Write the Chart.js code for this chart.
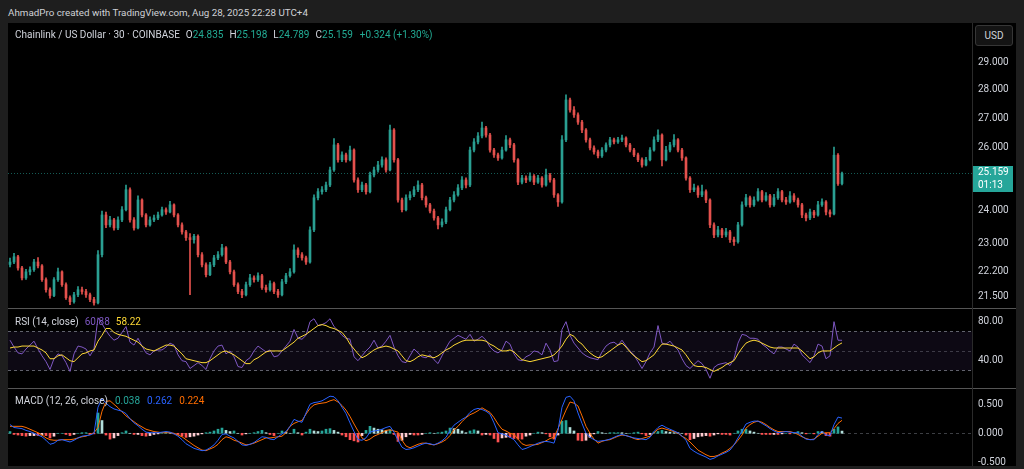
<!DOCTYPE html>
<html><head><meta charset="utf-8">
<script src="https://cdn.jsdelivr.net/npm/chart.js@4.4.1/dist/chart.umd.min.js"></script>
<style>
*{box-sizing:border-box}
html,body{margin:0;padding:0;width:1024px;height:469px;overflow:hidden;background:#1e1e1e;font-family:Roboto,"Liberation Sans",Arial,sans-serif}
#bg{position:absolute;left:8px;top:23px;width:1008px;height:443px;background:#000}
.pane{position:absolute;left:8px;width:1008px}
.pane canvas{display:block}
#p1{top:23px;height:285px}
#p2{top:309px;height:79px}
#p3{top:389px;height:80px}
.sep{position:absolute;left:8px;width:1008px;height:1px;background:#555;z-index:5}
#vsep{position:absolute;left:972px;top:23px;width:1px;height:443px;background:#2a2a2a;z-index:5}
.legend{position:absolute;left:15px;height:14px;line-height:14px;font-size:10px;color:#d1d4dc;white-space:nowrap;z-index:6}
.legend span{margin-left:6px}
.legend b{font-weight:normal}
#header{position:absolute;left:8px;top:6px;font-size:9.8px;line-height:14px;color:#cfd1d6;white-space:nowrap}
#usd{position:absolute;left:975px;top:25px;width:38px;height:21px;border:1px solid #363636;border-radius:3px;background:#141414;color:#d1d4dc;font-size:10px;line-height:19px;text-align:center;z-index:6}
</style>
</head><body>
<div id="bg"></div>
<div id="header"></div>
<div class="pane" id="p1"><canvas id="c1"></canvas></div>
<div class="pane" id="p2"><canvas id="c2"></canvas></div>
<div class="pane" id="p3"><canvas id="c3"></canvas></div>
<div class="sep" style="top:308px"></div>
<div class="sep" style="top:388px"></div>
<div id="vsep"></div>
<div id="usd">USD</div>
<div class="legend" id="lg1" style="top:28px"></div>
<div class="legend" id="lg2" style="top:315px"></div>
<div class="legend" id="lg3" style="top:394px"></div>
<script>
// ---------- DATA ----------
const headerText = "AhmadPro created with TradingView.com, Aug 28, 2025 22:28 UTC+4";
const symbolTitle = "Chainlink / US Dollar \u00b7 30 \u00b7 COINBASE";
const currency = "USD";
const countdown = "01:13";

const opens = [
22.40,22.47,22.62,22.30,22.02,22.19,22.25,22.47,22.36,21.97,
21.69,21.53,21.97,22.19,21.83,21.47,21.36,21.55,21.69,21.64,
21.55,21.42,21.33,22.68,23.86,23.56,23.71,23.47,23.71,24.02,
24.64,23.71,23.47,24.32,23.86,23.56,23.71,23.77,23.86,24.02,
23.95,24.17,23.86,23.56,23.35,23.18,23.12,23.22,22.68,22.39,
22.11,22.39,22.59,22.68,22.88,22.47,22.19,21.83,21.64,21.55,
21.83,22.02,21.97,22.08,21.75,21.69,21.86,21.64,21.55,21.91,
22.08,22.19,22.82,22.68,22.59,22.47,23.41,24.39,24.58,24.64,
24.79,25.27,26.09,25.60,25.76,25.60,25.92,24.95,24.64,24.79,
24.58,25.11,25.27,25.43,25.60,25.27,26.59,25.60,24.32,24.02,
24.39,24.48,24.64,24.79,24.39,24.17,23.98,23.77,23.56,23.65,
24.02,24.32,24.48,24.70,24.95,24.79,25.92,26.19,26.39,26.66,
26.42,25.92,25.76,25.66,25.92,26.26,26.09,25.60,24.88,25.01,
24.95,25.07,24.88,25.01,24.79,25.11,24.95,24.48,24.26,26.26,
27.63,27.28,27.11,26.86,26.59,26.26,25.99,25.86,25.73,25.92,
26.09,26.26,26.19,26.26,26.32,26.09,25.92,25.76,25.60,25.43,
25.60,25.92,26.26,26.42,25.60,25.92,26.09,26.26,25.92,25.66,
25.01,24.64,24.70,24.48,24.58,24.32,23.56,23.26,23.41,23.26,
23.35,23.12,23.06,23.56,24.17,24.39,24.17,24.32,24.58,24.32,
24.45,24.17,24.39,24.58,24.32,24.26,24.45,24.32,24.17,23.86,
23.77,23.95,23.86,24.17,24.26,23.95,23.89,25.75,24.835];

const highs = [
22.58,22.72,22.66,22.35,22.26,22.33,22.55,22.60,22.40,22.02,
21.74,22.03,22.30,22.22,21.88,21.52,21.62,21.78,21.76,21.70,
21.60,21.48,22.80,23.98,23.95,23.82,23.76,23.80,24.12,24.79,
24.70,23.78,24.45,24.36,23.90,23.80,23.86,23.95,24.10,24.08,
24.28,24.20,23.90,23.62,23.40,23.30,23.28,23.26,22.74,22.45,
22.46,22.66,22.77,22.98,22.92,22.52,22.24,21.88,21.70,21.90,
22.12,22.08,22.16,22.12,21.82,21.94,21.90,21.70,21.98,22.15,
22.28,22.97,22.88,22.74,22.64,23.50,24.48,24.68,24.74,24.88,
25.36,26.30,26.14,25.86,25.82,26.05,25.96,25.02,24.88,24.84,
25.20,25.36,25.55,25.70,25.66,26.76,26.64,25.65,24.38,24.48,
24.58,24.74,24.92,24.84,24.44,24.22,24.04,23.82,23.74,24.10,
24.40,24.58,24.80,25.06,25.02,26.02,26.30,26.50,26.86,26.72,
26.48,25.98,25.82,26.02,26.40,26.32,26.14,25.64,25.10,25.08,
25.18,25.12,25.10,25.06,25.30,25.16,25.00,24.52,26.40,27.81,
27.70,27.40,27.18,26.92,26.64,26.32,26.06,25.92,26.00,26.16,
26.34,26.32,26.34,26.42,26.36,26.14,25.98,25.82,25.66,25.68,
26.00,26.36,26.60,26.46,26.04,26.18,26.44,26.30,25.98,25.70,
25.06,24.82,24.76,24.79,24.64,24.36,23.62,23.52,23.46,23.46,
23.40,23.20,23.64,24.26,24.50,24.44,24.42,24.68,24.62,24.55,
24.50,24.50,24.68,24.62,24.40,24.58,24.52,24.38,24.22,23.92,
24.04,24.00,24.28,24.36,24.30,24.02,26.02,25.80,25.198];

const lows = [
22.33,22.42,22.24,21.96,21.98,22.10,22.20,22.30,21.92,21.62,
21.46,21.50,21.92,21.78,21.42,21.28,21.32,21.50,21.57,21.48,
21.36,21.27,21.30,22.62,23.48,23.50,23.40,23.42,23.66,23.98,
23.64,23.40,23.44,23.80,23.50,23.52,23.66,23.72,23.82,23.88,
23.92,23.80,23.50,23.28,23.10,21.55,23.02,22.62,22.33,22.05,
22.08,22.34,22.54,22.64,22.42,22.13,21.78,21.58,21.47,21.52,
21.78,21.90,21.92,21.70,21.62,21.65,21.58,21.48,21.52,21.86,
22.04,22.15,22.60,22.52,22.40,22.44,23.36,24.32,24.50,24.58,
24.74,25.22,25.52,25.54,25.52,25.56,24.88,24.56,24.58,24.50,
24.54,25.05,25.20,25.36,25.20,25.24,25.52,24.25,23.95,23.98,
24.32,24.42,24.58,24.32,24.10,23.92,23.70,23.44,23.50,23.60,
23.98,24.26,24.44,24.64,24.70,24.74,25.86,26.12,26.32,26.35,
25.85,25.68,25.58,25.62,25.88,26.00,25.52,24.80,24.82,24.86,
24.90,24.80,24.84,24.72,24.75,24.88,24.40,24.12,24.22,26.20,
27.20,27.02,26.78,26.50,26.18,25.92,25.78,25.66,25.68,25.86,
26.02,26.12,26.14,26.20,26.02,25.86,25.70,25.54,25.36,25.40,
25.56,25.88,26.20,25.40,25.56,25.86,26.02,25.86,25.58,24.94,
24.56,24.58,24.40,24.42,24.24,23.48,23.18,23.20,23.18,23.20,
23.04,22.95,23.02,23.52,24.12,24.10,24.12,24.28,24.26,24.28,
24.10,24.12,24.34,24.26,24.18,24.22,24.26,24.10,23.78,23.68,
23.72,23.78,23.82,24.12,23.86,23.80,23.86,24.78,24.789];

const closes = [
22.47,22.62,22.30,22.02,22.19,22.25,22.47,22.36,21.97,21.69,
21.53,21.97,22.19,21.83,21.47,21.36,21.55,21.69,21.64,21.55,
21.42,21.33,22.68,23.86,23.56,23.71,23.47,23.71,24.02,24.64,
23.71,23.47,24.32,23.86,23.56,23.71,23.77,23.86,24.02,23.95,
24.17,23.86,23.56,23.35,23.18,23.12,23.22,22.68,22.39,22.11,
22.39,22.59,22.68,22.88,22.47,22.19,21.83,21.64,21.55,21.83,
22.02,21.97,22.08,21.75,21.69,21.86,21.64,21.55,21.91,22.08,
22.19,22.82,22.68,22.59,22.47,23.41,24.39,24.58,24.64,24.79,
25.27,26.09,25.60,25.76,25.60,25.92,24.95,24.64,24.79,24.58,
25.11,25.27,25.43,25.60,25.27,26.59,25.60,24.32,24.02,24.39,
24.48,24.64,24.79,24.39,24.17,23.98,23.77,23.56,23.65,24.02,
24.32,24.48,24.70,24.95,24.79,25.92,26.19,26.39,26.66,26.42,
25.92,25.76,25.66,25.92,26.26,26.09,25.60,24.88,25.01,24.95,
25.07,24.88,25.01,24.79,25.11,24.95,24.48,24.26,26.26,27.63,
27.28,27.11,26.86,26.59,26.26,25.99,25.86,25.73,25.92,26.09,
26.26,26.19,26.26,26.32,26.09,25.92,25.76,25.60,25.43,25.60,
25.92,26.26,26.42,25.60,25.92,26.09,26.26,25.92,25.66,25.01,
24.64,24.70,24.48,24.58,24.32,23.56,23.26,23.41,23.26,23.35,
23.12,23.06,23.56,24.17,24.39,24.17,24.32,24.58,24.32,24.45,
24.17,24.39,24.58,24.32,24.26,24.45,24.32,24.17,23.86,23.77,
23.95,23.86,24.17,24.26,23.95,23.89,25.75,24.835,25.159];

const rsiValues = [
61,54,48,47,52,56,60,52,45,39,
31,42,47,45,38,29,47,55,54,52,
45,52,84,78,71,65,61,63,69,75,
59,56,63,55,48,46,50,51,51,54,
58,56,46,40,39,32,35,38,35,31,
42,50,55,56,47,50,44,34,33,40,
43,50,55,52,49,51,44,45,50,55,
60,72,63,62,66,80,83,76,77,79,
83,75,71,66,63,62,44,40,45,50,
54,61,53,55,60,66,54,45,39,38,
45,52,48,44,43,46,41,37,45,53,
60,63,66,64,62,67,60,62,65,61,
54,50,48,51,60,57,47,41,40,44,
46,50,49,46,58,51,39,40,72,80,
66,58,53,48,45,43,42,41,49,55,
58,59,56,61,55,50,46,39,32,39,
48,54,76,58,57,60,55,51,42,35,
32,36,40,37,31,22,33,36,37,38,
35,42,58,67,66,63,63,62,57,54,
50,47,54,54,52,50,57,54,46,42,
38,45,57,55,42,45,80,61,60.88];

const rsiMA = [
53,54,54,55,55,55,55,53,51,48,
42,42,45,46,43,40,39,43,47,48,
50,51,60,66,73,73,69,67,66,65,
63,61,59,55,52,51,50,52,54,56,
56,55,51,47,42,41,40,39,38,38,
40,43,46,49,50,48,46,43,40,37,
37,41,43,46,49,50,50,50,50,53,
56,59,63,65,67,70,73,76,77,76,
74,73,71,69,64,57,52,47,43,45,
48,51,53,54,55,54,52,50,45,40,
39,41,44,46,45,44,43,45,48,51,
53,56,58,60,61,61,61,61,61,60,
57,55,52,50,50,51,49,45,41,40,
39,40,41,42,43,44,46,50,55,62,
67,65,60,57,52,48,45,43,44,47,
50,53,56,58,54,49,45,42,39,40,
43,46,52,57,57,56,55,53,51,46,
40,35,34,34,33,31,29,31,33,36,
38,40,47,53,58,60,61,60,58,56,
54,53,53,53,53,53,53,53,50,46,
42,44,48,50,50,50,53,56,58.22];

const macdLine = [
0.15,0.10,0.09,0.08,0.05,0.03,0.00,-0.03,-0.06,-0.12,
-0.19,-0.17,-0.12,-0.11,-0.13,-0.15,-0.12,-0.08,-0.05,-0.04,
-0.03,0.00,0.45,0.60,0.52,0.46,0.42,0.40,0.38,0.34,
0.25,0.18,0.13,0.07,0.02,0.01,0.01,0.01,0.02,0.03,
0.02,-0.01,-0.05,-0.11,-0.18,-0.22,-0.26,-0.28,-0.30,-0.29,
-0.25,-0.20,-0.12,-0.02,-0.01,-0.05,-0.08,-0.14,-0.20,-0.21,
-0.19,-0.16,-0.11,-0.06,-0.07,-0.10,-0.11,-0.06,-0.01,0.03,
0.12,0.24,0.21,0.19,0.35,0.50,0.53,0.54,0.56,0.60,
0.64,0.63,0.56,0.45,0.34,0.18,0.03,-0.11,-0.12,-0.08,
0.02,0.04,0.05,0.07,0.10,0.12,0.02,-0.12,-0.24,-0.28,
-0.27,-0.25,-0.22,-0.19,-0.17,-0.18,-0.20,-0.17,-0.13,-0.07,
0.05,0.14,0.19,0.24,0.28,0.36,0.41,0.43,0.41,0.38,
0.33,0.18,0.01,-0.01,-0.03,-0.07,-0.11,-0.20,-0.28,-0.26,
-0.23,-0.20,-0.17,-0.15,-0.14,-0.15,-0.17,0.05,0.45,0.62,
0.64,0.56,0.35,0.17,0.00,-0.07,-0.11,-0.14,-0.13,-0.12,
-0.10,-0.07,-0.04,-0.02,-0.04,-0.06,-0.08,-0.09,-0.10,-0.11,
-0.07,0.03,0.10,0.14,0.10,0.07,0.04,0.01,-0.05,-0.12,
-0.26,-0.31,-0.35,-0.38,-0.41,-0.45,-0.43,-0.39,-0.36,-0.33,
-0.29,-0.20,-0.08,0.04,0.16,0.19,0.21,0.21,0.17,0.13,
0.08,0.04,0.01,0.02,0.03,0.02,0.01,0.01,-0.05,-0.10,
-0.11,-0.11,-0.02,0.03,-0.03,-0.04,0.15,0.28,0.262];

const signalLine = [
0.12,0.12,0.12,0.12,0.10,0.07,0.04,0.01,-0.03,-0.08,
-0.11,-0.12,-0.12,-0.11,-0.11,-0.11,-0.10,-0.08,-0.06,-0.05,
-0.02,0.01,0.10,0.38,0.55,0.56,0.50,0.44,0.37,0.30,
0.25,0.20,0.15,0.11,0.07,0.05,0.03,0.02,0.01,0.01,
0.01,0.00,-0.03,-0.06,-0.11,-0.16,-0.21,-0.25,-0.29,-0.30,
-0.27,-0.24,-0.19,-0.11,-0.06,-0.08,-0.12,-0.14,-0.17,-0.20,
-0.19,-0.17,-0.14,-0.11,-0.08,-0.08,-0.07,-0.06,-0.05,0.01,
0.12,0.17,0.20,0.22,0.33,0.43,0.49,0.51,0.52,0.53,
0.56,0.58,0.54,0.48,0.40,0.29,0.16,0.04,-0.08,-0.13,
-0.10,-0.05,-0.02,0.01,0.05,0.06,0.04,0.02,-0.12,-0.22,
-0.25,-0.22,-0.19,-0.17,-0.17,-0.19,-0.20,-0.18,-0.15,-0.11,
-0.04,0.06,0.12,0.20,0.27,0.32,0.35,0.39,0.44,0.40,
0.36,0.27,0.16,0.07,0.04,0.00,-0.02,-0.10,-0.18,-0.21,
-0.20,-0.20,-0.19,-0.16,-0.13,-0.09,-0.07,0.08,0.24,0.40,
0.54,0.52,0.47,0.30,0.12,0.00,-0.10,-0.17,-0.14,-0.12,
-0.11,-0.08,-0.05,-0.03,-0.04,-0.06,-0.09,-0.11,-0.09,-0.07,
-0.05,0.01,0.07,0.09,0.07,0.05,0.03,0.00,-0.05,-0.09,
-0.15,-0.22,-0.29,-0.33,-0.37,-0.40,-0.40,-0.38,-0.34,-0.31,
-0.26,-0.20,-0.12,-0.03,0.09,0.15,0.19,0.21,0.19,0.15,
0.10,0.06,0.03,0.03,0.03,0.03,0.01,-0.02,-0.06,-0.09,
-0.11,-0.10,-0.05,0.00,0.01,0.01,0.08,0.17,0.224];

const priceTicks = [21.5, 22.2, 23, 24, 26, 27, 28, 29];
const rsiTicks = [40, 80];
const rsiLevels = [70, 50, 30];
const macdTicks = [-0.5, 0, 0.5];
const futureSlots = 32;

// ---------- STYLE ----------
const UP = '#2a9f92', DOWN = '#e4514d';
const AXIS_TEXT = '#d1d4dc';
const FONT = 'Roboto, "Liberation Sans", Arial, sans-serif';

const n = closes.length;
const last = n - 1;
const labels = Array.from({length: n + futureSlots}, (_, i) => 'b' + i);
const candleColors = closes.map((c, i) => c >= opens[i] ? UP : DOWN);
const histogram = macdLine.map((m, i) => m - signalLine[i]);
const histColors = histogram.map((h, i) => {
  const p = i > 0 ? histogram[i - 1] : h;
  if (h >= 0) return h >= p ? '#26a69a' : '#b2dfdb';
  return h <= p ? '#ff5252' : '#ffcdd2';
});

const base = {
  responsive: true, maintainAspectRatio: false, animation: false, events: [],
  layout: {padding: 0},
  plugins: {legend: {display: false}, tooltip: {enabled: false}}
};
const xScale = {type: 'category', display: false, offset: true, grid: {display: false}};
function yScale(type, min, max, tickValues, fmt) {
  return {
    type, position: 'right', min, max, bounds: 'data',
    grid: {display: false, drawTicks: false}, border: {display: false},
    ticks: {color: AXIS_TEXT, font: {family: FONT, size: 10}, padding: 6, autoSkip: false, maxRotation: 0,
      callback: v => fmt(v)},
    afterBuildTicks: s => { s.ticks = tickValues.map(v => ({value: v})); },
    afterFit: s => { s.width = 44; s.paddingTop = 0; s.paddingBottom = 0; }
  };
}

const lastPricePlugin = {
  id: 'lastPrice',
  beforeDatasetsDraw(chart) {
    const {ctx, chartArea, scales} = chart;
    const y = Math.round(scales.y.getPixelForValue(closes[last])) + 0.5;
    ctx.save();
    ctx.strokeStyle = 'rgba(38,166,154,0.55)';
    ctx.lineWidth = 1;
    ctx.setLineDash([1, 2]);
    ctx.beginPath(); ctx.moveTo(chartArea.left, y); ctx.lineTo(chartArea.right, y); ctx.stroke();
    ctx.restore();
  },
  afterDraw(chart) {
    const {ctx, chartArea, scales} = chart;
    const y = scales.y.getPixelForValue(closes[last]);
    ctx.save();
    ctx.fillStyle = '#26a69a';
    ctx.fillRect(chartArea.right + 1, Math.round(y) - 7, 40, 26);
    ctx.fillStyle = '#ffffff';
    ctx.font = '10px ' + FONT;
    ctx.textBaseline = 'middle';
    ctx.textAlign = 'left';
    ctx.fillText(closes[last].toFixed(3), chartArea.right + 6, Math.round(y) - 0.5);
    ctx.fillText(countdown, chartArea.right + 6, Math.round(y) + 12.5);
    ctx.restore();
  }
};

const rsiBandPlugin = {
  id: 'rsiBand',
  beforeDatasetsDraw(chart) {
    const {ctx, chartArea, scales} = chart;
    const yTop = scales.y.getPixelForValue(rsiLevels[0]);
    const yBot = scales.y.getPixelForValue(rsiLevels[2]);
    ctx.save();
    ctx.fillStyle = 'rgba(126,87,194,0.1)';
    ctx.fillRect(chartArea.left, yTop, chartArea.right - chartArea.left, yBot - yTop);
    ctx.lineWidth = 1;
    ctx.setLineDash([3, 3]);
    rsiLevels.forEach((lv, k) => {
      const y = Math.round(scales.y.getPixelForValue(lv)) + 0.5;
      ctx.strokeStyle = k === 1 ? 'rgba(120,123,134,0.45)' : 'rgba(120,123,134,0.8)';
      ctx.beginPath(); ctx.moveTo(chartArea.left, y); ctx.lineTo(chartArea.right, y); ctx.stroke();
    });
    ctx.restore();
  }
};

const zeroLinePlugin = {
  id: 'zeroLine',
  beforeDatasetsDraw(chart) {
    const {ctx, chartArea, scales} = chart;
    const y = Math.round(scales.y.getPixelForValue(0)) + 0.5;
    ctx.save();
    ctx.strokeStyle = 'rgba(120,123,134,0.5)';
    ctx.lineWidth = 1;
    ctx.setLineDash([3, 3]);
    ctx.beginPath(); ctx.moveTo(chartArea.left, y); ctx.lineTo(chartArea.right, y); ctx.stroke();
    ctx.restore();
  }
};

// ---------- PRICE ----------
new Chart(document.getElementById('c1'), {
  type: 'bar',
  data: {labels, datasets: [
    {data: lows.map((l, i) => [l, highs[i]]), backgroundColor: candleColors, barThickness: 1, grouped: false, order: 2},
    {data: opens.map((o, i) => [o, closes[i]]), backgroundColor: candleColors, barThickness: 2, minBarLength: 1, grouped: false, order: 1}
  ]},
  options: {...base, scales: {x: xScale, y: yScale('logarithmic', 21.19, 30.48, priceTicks, v => Number(v).toFixed(3))}},
  plugins: [lastPricePlugin]
});

// ---------- RSI ----------
new Chart(document.getElementById('c2'), {
  type: 'line',
  data: {labels, datasets: [
    {data: rsiMA, borderColor: '#fdd835', borderWidth: 1, pointRadius: 0, tension: 0, order: 1},
    {data: rsiValues, borderColor: '#7e57c2', borderWidth: 1, pointRadius: 0, tension: 0, order: 2}
  ]},
  options: {...base, scales: {x: xScale, y: yScale('linear', 12, 93, rsiTicks, v => Number(v).toFixed(2))}},
  plugins: [rsiBandPlugin]
});

// ---------- MACD ----------
new Chart(document.getElementById('c3'), {
  type: 'bar',
  data: {labels, datasets: [
    {type: 'bar', data: histogram, backgroundColor: histColors, barThickness: 2, grouped: false, order: 3},
    {type: 'line', data: signalLine, borderColor: '#ff6d00', borderWidth: 1, pointRadius: 0, tension: 0, order: 2},
    {type: 'line', data: macdLine, borderColor: '#2962ff', borderWidth: 1, pointRadius: 0, tension: 0, order: 1}
  ]},
  options: {...base, scales: {x: xScale, y: yScale('linear', -0.616, 0.764, macdTicks, v => Number(v).toFixed(3))}},
  plugins: [zeroLinePlugin]
});

// ---------- TEXT ----------
const f3 = v => v.toFixed(3);
const chg = closes[last] - closes[last - 1];
const pct = chg / closes[last - 1] * 100;
const teal = '#22ab94';
document.getElementById('header').textContent = headerText;
document.getElementById('usd').textContent = currency;
document.getElementById('lg1').innerHTML = symbolTitle +
  `<span>O<b style="color:${teal}">${f3(opens[last])}</b></span>` +
  `<span>H<b style="color:${teal}">${f3(highs[last])}</b></span>` +
  `<span>L<b style="color:${teal}">${f3(lows[last])}</b></span>` +
  `<span>C<b style="color:${teal}">${f3(closes[last])}</b></span>` +
  `<span style="margin-left:7px;color:${teal}">${chg >= 0 ? '+' : ''}${f3(chg)} (${pct >= 0 ? '+' : ''}${pct.toFixed(2)}%)</span>`;
document.getElementById('lg2').innerHTML = 'RSI (14, close)' +
  `<span style="color:#7e57c2">${rsiValues[last].toFixed(2)}</span>` +
  `<span style="color:#fdd835">${rsiMA[last].toFixed(2)}</span>`;
document.getElementById('lg3').innerHTML = 'MACD (12, 26, close)' +
  `<span style="margin-left:7px;color:#26a69a">${f3(histogram[last])}</span>` +
  `<span style="margin-left:7px;color:#2962ff">${f3(macdLine[last])}</span>` +
  `<span style="margin-left:7px;color:#ff6d00">${f3(signalLine[last])}</span>`;
</script>
</body></html>
